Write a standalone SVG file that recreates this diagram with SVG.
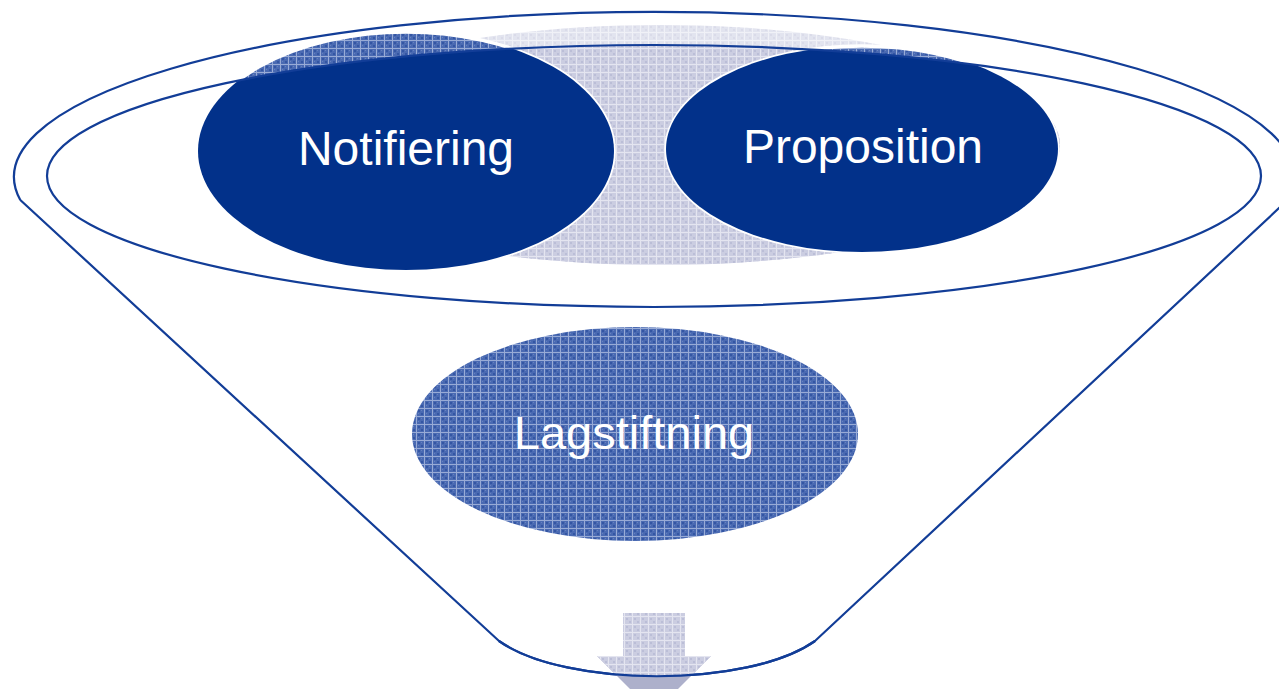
<svg xmlns="http://www.w3.org/2000/svg" width="1279" height="689" viewBox="0 0 1279 689">
<style>
.line{fill:none;stroke:#123d97;stroke-width:2.2}
.lbl{font-family:"Liberation Sans",Arial,sans-serif;fill:#ffffff;text-anchor:middle}
.navy{fill:#02318a}
.rim{stroke:#ffffff;stroke-width:3.5}
</style>
<defs>
<pattern id="pBlue" patternUnits="userSpaceOnUse" width="8" height="8">
<rect width="8" height="8" fill="#4a6ab2"/>
<rect x="2" y="2" width="2" height="2" fill="#3456a3"/>
<rect x="5" y="5" width="2" height="2" fill="#3456a3"/>
<rect x="5" y="2" width="1" height="1" fill="#6682c0"/>
<rect x="2" y="5" width="1" height="1" fill="#6682c0"/>
<rect x="0" y="0" width="8" height="1" fill="#98abd6"/>
<rect x="0" y="0" width="1" height="8" fill="#98abd6"/>
</pattern>
<pattern id="pLight" patternUnits="userSpaceOnUse" width="8" height="8">
<rect width="8" height="8" fill="#cbcde1"/>
<rect x="2" y="2" width="2" height="2" fill="#bbbed7"/>
<rect x="5" y="5" width="2" height="2" fill="#bbbed7"/>
<rect x="0" y="0" width="8" height="1" fill="#e4e5f0"/>
<rect x="0" y="0" width="1" height="8" fill="#e4e5f0"/>
</pattern>
<clipPath id="cInner"><ellipse cx="654" cy="176" rx="607" ry="131"/></clipPath>
<clipPath id="cFunnel"><path d="M20.3,200 L499,641 C566,688 748,688 815,641 L1287.7,200 A640,165 0 1 0 20.3,200 Z"/></clipPath>
</defs>
<rect width="1279" height="689" fill="#ffffff"/>

<g id="middle-band">
<ellipse cx="660" cy="145" rx="400" ry="120" fill="url(#pLight)" opacity="0.55"/>
<ellipse cx="660" cy="145" rx="400" ry="120" fill="url(#pLight)" clip-path="url(#cInner)"/>
</g>

<g id="notifiering">
<ellipse cx="406" cy="151" rx="208" ry="119" fill="url(#pBlue)" class="rim"/>
<ellipse cx="406" cy="151" rx="208" ry="119" class="navy" clip-path="url(#cInner)"/>
<text class="lbl" x="406" y="165" font-size="48">Notifiering</text>
</g>

<g id="proposition">
<ellipse cx="862" cy="149" rx="196" ry="103" fill="url(#pBlue)" class="rim"/>
<ellipse cx="862" cy="149" rx="196" ry="103" class="navy" clip-path="url(#cInner)"/>
<text class="lbl" x="863" y="163" font-size="48">Proposition</text>
</g>

<g id="funnel">
<ellipse class="line" cx="654" cy="176" rx="607" ry="131"/>
<path class="line" d="M20.3,200 L499,641 C566,688 748,688 815,641 L1287.7,200 A640,165 0 1 0 20.3,200"/>
</g>

<g id="lagstiftning">
<ellipse cx="635" cy="434" rx="223" ry="107" fill="url(#pBlue)"/>
<text class="lbl" x="634" y="449" font-size="47">Lagstiftning</text>
</g>

<g id="connectors">
<path d="M623,613 L685,613 L685,656 L711,656 L654,713 L597,656 L623,656 Z" fill="#adb0cb"/>
<path d="M623,613 L685,613 L685,656 L711,656 L654,713 L597,656 L623,656 Z" fill="url(#pLight)" clip-path="url(#cFunnel)"/>
<path class="line" d="M499,641 C566,688 748,688 815,641"/>
</g>
</svg>
